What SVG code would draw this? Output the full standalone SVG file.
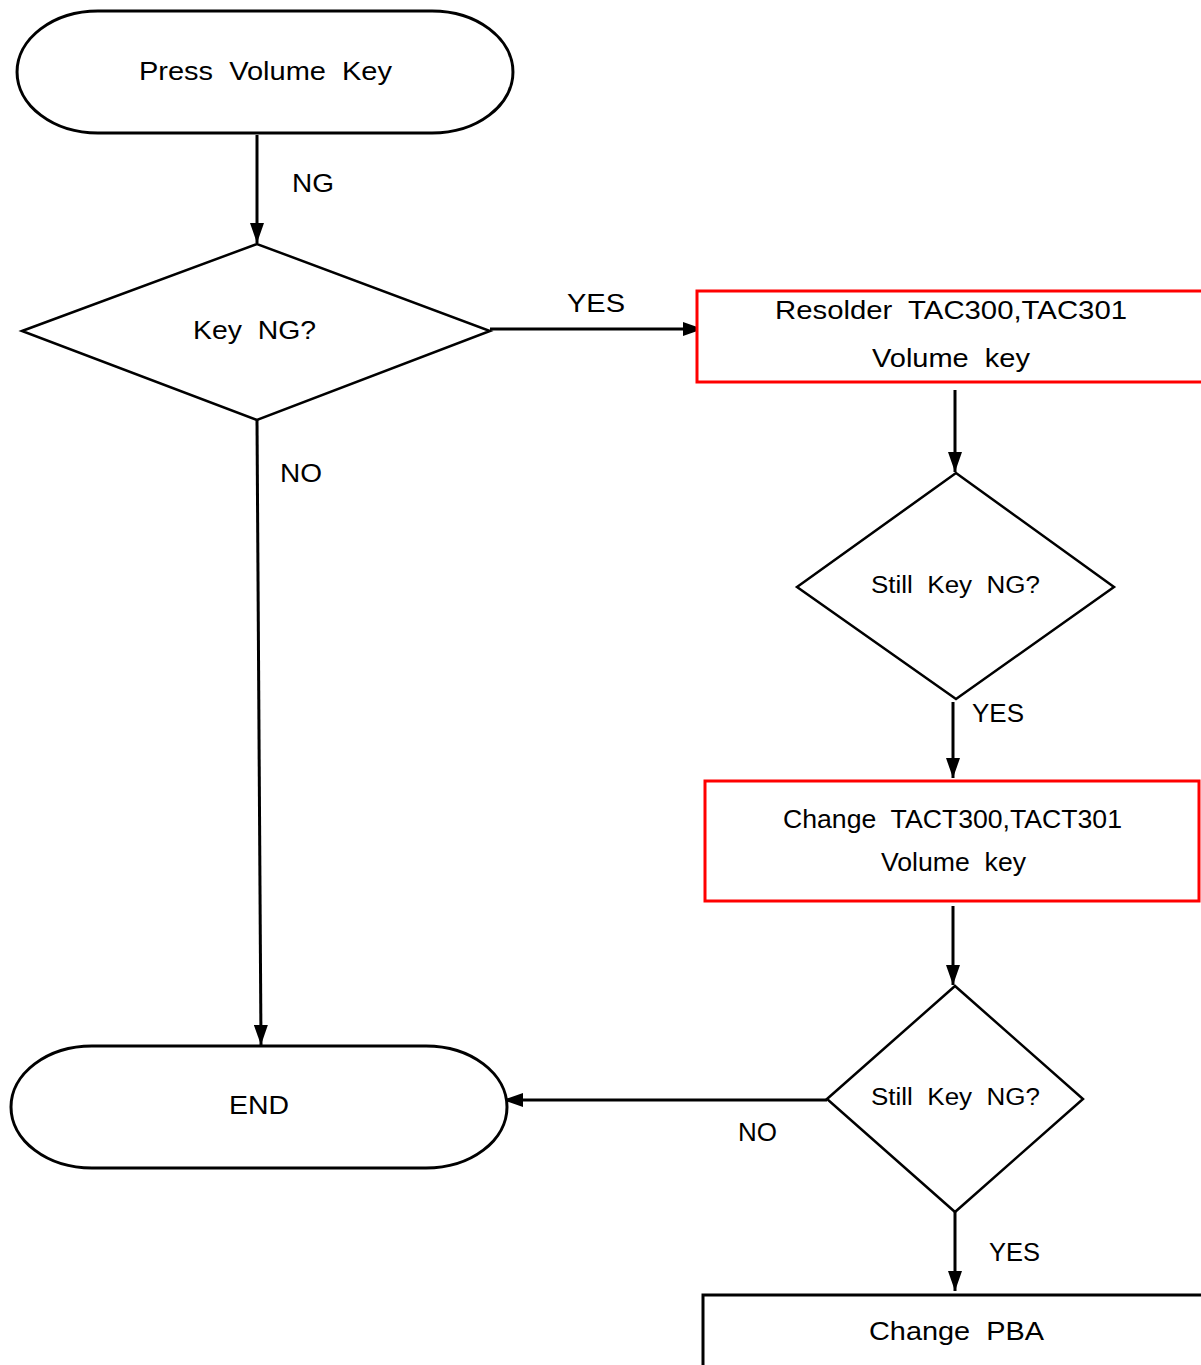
<svg xmlns="http://www.w3.org/2000/svg" width="1201" height="1365" viewBox="0 0 1201 1365" xml:space="preserve">
<style>
text{font-family:"Liberation Sans",Arial,sans-serif;font-size:25px;fill:#000;white-space:pre}
.sm{font-size:23px}
.term{fill:#fff;stroke:#000;stroke-width:3}
.dia{fill:#fff;stroke:#000;stroke-width:2.5}
.red{fill:#fff;stroke:#f00;stroke-width:3}
.blk{fill:#fff;stroke:#000;stroke-width:3}
.con{fill:none;stroke:#000;stroke-width:3}
</style>
<defs>
<marker id="ah" markerUnits="userSpaceOnUse" markerWidth="22" markerHeight="14" refX="20" refY="7" orient="auto">
<path d="M0,0 L20,7 L0,14 Z" fill="#000"/>
</marker>
</defs>
<rect width="1201" height="1365" fill="#fff"/>
<g id="connectors">
<line class="con" x1="257" y1="135" x2="257" y2="243" marker-end="url(#ah)"/>
<line class="con" x1="490" y1="329" x2="703" y2="329" marker-end="url(#ah)"/>
<line class="con" x1="955" y1="390" x2="955" y2="472" marker-end="url(#ah)"/>
<line class="con" x1="953" y1="702" x2="953" y2="778" marker-end="url(#ah)"/>
<line class="con" x1="953" y1="906" x2="953" y2="985" marker-end="url(#ah)"/>
<line class="con" x1="827" y1="1100" x2="503" y2="1100" marker-end="url(#ah)"/>
<line class="con" x1="257" y1="420" x2="261" y2="1045" marker-end="url(#ah)"/>
<line class="con" x1="955" y1="1212" x2="955" y2="1291" marker-end="url(#ah)"/>
<text x="292" y="192" textLength="42" lengthAdjust="spacingAndGlyphs">NG</text>
<text x="567" y="312" textLength="58" lengthAdjust="spacingAndGlyphs">YES</text>
<text x="280" y="482" textLength="42" lengthAdjust="spacingAndGlyphs">NO</text>
<text x="972" y="722" textLength="52" lengthAdjust="spacingAndGlyphs">YES</text>
<text x="738" y="1141" textLength="39" lengthAdjust="spacingAndGlyphs">NO</text>
<text x="989" y="1261" textLength="51" lengthAdjust="spacingAndGlyphs">YES</text>
</g>
<g id="start">
<path class="term" d="M98,11 H432 A81,61 0 0 1 432,133 H98 A81,61 0 0 1 98,11 Z"/>
<text x="139" y="80" textLength="253" lengthAdjust="spacingAndGlyphs">Press  Volume  Key</text>
</g>
<g id="keyng">
<polygon class="dia" points="22,331 257,244 490,331 257,420"/>
<text x="193" y="339" textLength="123" lengthAdjust="spacingAndGlyphs">Key  NG?</text>
</g>
<g id="resolder">
<rect class="red" x="697" y="291" width="510" height="91"/>
<text x="775" y="319" textLength="352" lengthAdjust="spacingAndGlyphs">Resolder  TAC300,TAC301</text>
<text x="872" y="367" textLength="158" lengthAdjust="spacingAndGlyphs">Volume  key</text>
</g>
<g id="still1">
<polygon class="dia" points="797,587 956,473 1114,587 956,699"/>
<text class="sm" x="871" y="593" textLength="169" lengthAdjust="spacingAndGlyphs">Still  Key  NG?</text>
</g>
<g id="change">
<rect class="red" x="705" y="781" width="494" height="120"/>
<text x="783" y="828" textLength="339" lengthAdjust="spacingAndGlyphs">Change  TACT300,TACT301</text>
<text x="881" y="871" textLength="145" lengthAdjust="spacingAndGlyphs">Volume  key</text>
</g>
<g id="still2">
<polygon class="dia" points="827,1099 955,986 1083,1099 955,1212"/>
<text class="sm" x="871" y="1105" textLength="169" lengthAdjust="spacingAndGlyphs">Still  Key  NG?</text>
</g>
<g id="end">
<path class="term" d="M92,1046 H426 A81,61 0 0 1 426,1168 H92 A81,61 0 0 1 92,1046 Z"/>
<text x="229" y="1114" textLength="60" lengthAdjust="spacingAndGlyphs">END</text>
</g>
<g id="pba">
<rect class="blk" x="703" y="1295" width="510" height="100"/>
<text x="869" y="1340" textLength="175" lengthAdjust="spacingAndGlyphs">Change  PBA</text>
</g>
</svg>
